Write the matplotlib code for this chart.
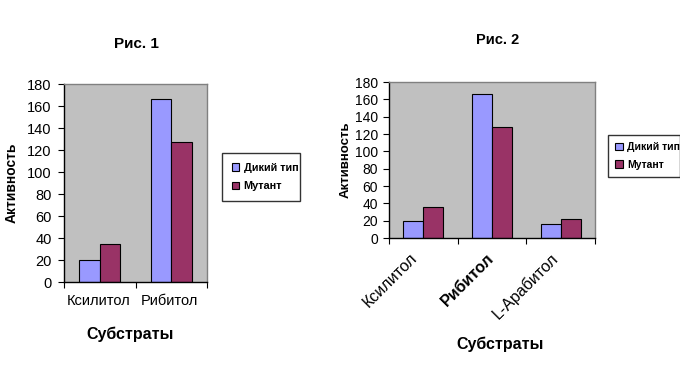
import matplotlib
matplotlib.use("Agg")
import matplotlib.pyplot as plt
import numpy as np

plt.rcParams['font.family'] = ['Liberation Sans', 'DejaVu Sans']

# Figure 1 data
cats1 = ["Ксилитол", "Рибитол"]
wild1 = [20, 166]
mut1 = [35, 127]

# Figure 2 data
cats2 = ["Ксилитол", "Рибитол", "L-Арабитол"]
wild2 = [20, 166, 16]
mut2 = [36, 128, 22]

series_names = ["Дикий тип", "Мутант"]
yticks = [0, 20, 40, 60, 80, 100, 120, 140, 160, 180]

C_WILD = "#9999FF"
C_MUT = "#993366"
C_BG = "#C0C0C0"

W, H = 680, 390
fig = plt.figure(figsize=(W / 100, H / 100), dpi=100)
fig.patch.set_facecolor("white")

def ax_px(l, t, r, b):
    return fig.add_axes([l / W, 1 - b / H, (r - l) / W, (b - t) / H])

def style(ax, n, fs, pad):
    ax.set_facecolor(C_BG)
    ax.set_ylim(0, 180)
    ax.set_xlim(0, n)
    ax.set_yticks(yticks)
    ax.set_xticks(np.arange(n + 1))
    ax.tick_params(axis='x', which='major', length=4, labelbottom=False, direction='out')
    ax.tick_params(axis='y', length=4, labelsize=fs, direction='out', pad=pad)
    for s in ['top', 'right']:
        ax.spines[s].set_color('#808080')
        ax.spines[s].set_linewidth(1.0)
    for s in ['left', 'bottom']:
        ax.spines[s].set_color('black')
        ax.spines[s].set_linewidth(1.0)

def bars(ax, wild, mut, bw):
    x = np.arange(len(wild)) + 0.5
    ax.bar(x - bw / 2, wild, bw, color=C_WILD, edgecolor='black', linewidth=0.8, label=series_names[0])
    ax.bar(x + bw / 2, mut, bw, color=C_MUT, edgecolor='black', linewidth=0.8, label=series_names[1])
    return x

def legend(ax, l, t, r, b, size, bpad, lspace, tpad):
    leg = ax.legend(loc='upper left', bbox_to_anchor=(l / W, 1 - b / H, (r - l) / W, (b - t) / H),
                    bbox_transform=fig.transFigure, mode='expand',
                    prop={'weight': 'bold', 'size': size}, frameon=True, fancybox=False,
                    handlelength=0.7, handleheight=0.7, handletextpad=tpad, borderaxespad=0,
                    borderpad=bpad, labelspacing=lspace)
    leg.get_frame().set_edgecolor('black')
    leg.get_frame().set_linewidth(1.0)
    return leg

# ---- Figure 1
ax1 = ax_px(64, 84, 207, 282)
style(ax1, len(cats1), 10.5, 5)
x1 = bars(ax1, wild1, mut1, 0.29)
for xi, lab in zip(x1, cats1):
    ax1.text(xi - 0.02, -11, lab, ha='center', va='top', fontsize=10.5,
             transform=ax1.transData)
ax1.set_ylabel("Активность", fontsize=10, fontweight='bold', labelpad=6)
fig.text(130 / W, 1 - 334 / H, "Субстраты", ha='center', va='center', fontsize=11.5, fontweight='bold')
fig.text(136 / W, 1 - 44 / H, "Рис. 1", ha='center', va='center', fontsize=11, fontweight='bold')
legend(ax1, 222, 153, 300, 203, 7.8, 0.9, 0.8, 0.4)

# ---- Figure 2
ax2 = ax_px(389, 82, 595, 238)
style(ax2, len(cats2), 10, 4)
x2 = bars(ax2, wild2, mut2, 0.29)
shifts = [-0.2, -0.08, -0.15]
for i, (xi, lab) in enumerate(zip(x2, cats2)):
    bold = (i == 1)
    ax2.text(xi + shifts[i], -14, lab, ha='right', va='top', rotation=45, rotation_mode='anchor',
             fontsize=11.5, fontweight='bold' if bold else 'normal',
             transform=ax2.transData)
ax2.set_ylabel("Активность", fontsize=9.5, fontweight='bold', labelpad=2)
fig.text(500 / W, 1 - 344 / H, "Субстраты", ha='center', va='center', fontsize=11.5, fontweight='bold')
fig.text(498 / W, 1 - 40 / H, "Рис. 2", ha='center', va='center', fontsize=10.5, fontweight='bold')
legend(ax2, 608, 135, 680, 182, 7.5, 0.7, 0.7, 0.4)

fig.savefig("out.png", dpi=100, facecolor='white')
